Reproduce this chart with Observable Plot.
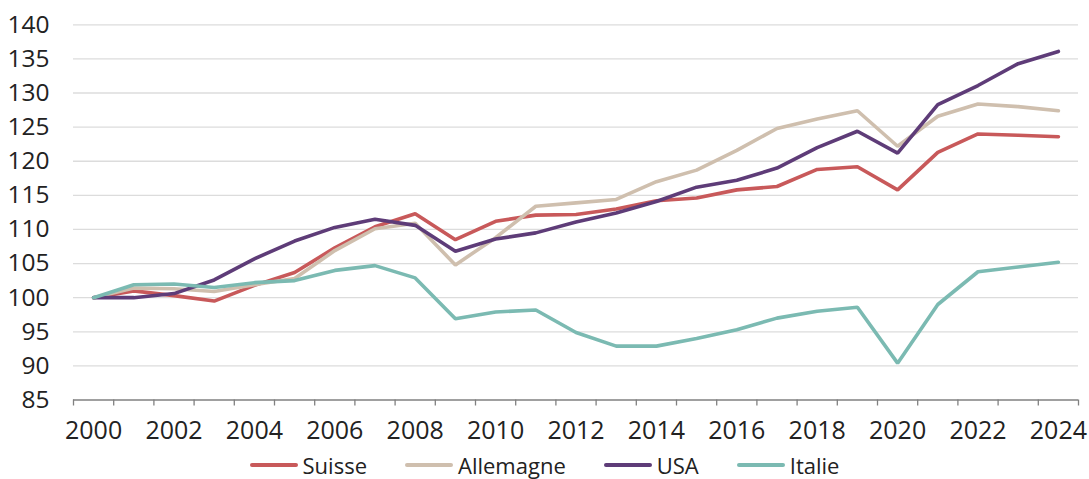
<!DOCTYPE html>
<html>
<head>
<meta charset="utf-8">
<script src="https://cdn.jsdelivr.net/npm/d3@7"></script>
<script src="https://cdn.jsdelivr.net/npm/@observablehq/plot@0.6"></script>
<style>
  body { margin: 0; background: #fff; font-family: "Open Sans", sans-serif; }
  #legend { width: 1089px; display: flex; justify-content: center; gap: 38px; height: 38px; align-items: center; font-size: 22px; color: #222; }
  .item { display: flex; align-items: center; gap: 5px; }
  .sw { width: 48px; height: 4px; border-radius: 2px; }
</style>
</head>
<body>
<div id="chart"></div>
<div id="legend"></div>
<script>
const years = [2000,2001,2002,2003,2004,2005,2006,2007,2008,2009,2010,2011,2012,2013,2014,2015,2016,2017,2018,2019,2020,2021,2022,2023,2024];
const yearLabels = [2000,2002,2004,2006,2008,2010,2012,2014,2016,2018,2020,2022,2024];
const yTicks = [85,90,95,100,105,110,115,120,125,130,135,140];

const suisse    = [100,101.0,100.3,99.5,101.8,103.7,107.3,110.4,112.3,108.5,111.2,112.1,112.2,113.0,114.2,114.6,115.8,116.3,118.8,119.2,115.8,121.3,124.0,123.8,123.6];
const allemagne = [100,101.4,101.3,100.9,101.9,102.8,106.9,110.1,110.9,104.8,108.8,113.4,113.9,114.4,117.0,118.7,121.6,124.8,126.2,127.4,122.2,126.6,128.4,128.0,127.4];
const usa       = [100,100.0,100.6,102.6,105.7,108.3,110.3,111.5,110.6,106.8,108.6,109.5,111.1,112.4,114.1,116.2,117.2,119.0,122.0,124.4,121.2,128.3,131.1,134.3,136.1];
const italie    = [100,101.9,102.0,101.5,102.2,102.5,104.0,104.7,102.9,96.9,97.9,98.2,94.9,92.9,92.9,94.0,95.3,97.0,98.0,98.6,90.4,99.0,103.8,104.5,105.2];

const seriesNames = ["Suisse","Allemagne","USA","Italie"];
const seriesValues = [suisse, allemagne, usa, italie];
const colors = ["#C8595A","#CFBFAE","#5E3C78","#7BBAB2"];

const rows = [];
seriesNames.forEach((name, i) => {
  years.forEach((yr, j) => rows.push({series: name, year: yr, value: seriesValues[i][j]}));
});

const boundaries = years.map(y => y - 0.5).concat([years[years.length-1] + 0.5]);

const chart = Plot.plot({
  width: 1089,
  height: 446,
  marginLeft: 73,
  marginRight: 11,
  marginTop: 24.3,
  marginBottom: 46.5,
  style: {fontFamily: "'Open Sans', sans-serif", background: "#fff"},
  x: {type: "linear", domain: [boundaries[0], boundaries[boundaries.length-1]], axis: null},
  y: {domain: [85, 140], axis: null},
  color: {domain: seriesNames, range: colors},
  marks: [
    Plot.gridY(yTicks.filter(d => d !== 85), {stroke: "#dcdcdc", strokeOpacity: 1, strokeWidth: 1.3}),
    Plot.axisY(yTicks, {label: null, tickSize: 0, tickPadding: 24, fontSize: 24.5, fill: "#222", tickFormat: d => String(d)}),
    Plot.ruleY([85], {stroke: "#808080", strokeWidth: 1.5}),
    Plot.axisX(boundaries, {label: null, tickSize: 6, stroke: "#808080", strokeWidth: 1.3, tickFormat: () => ""}),
    Plot.axisX(yearLabels, {label: null, tickSize: 0, tickPadding: 21, fontSize: 25, fill: "#222", tickFormat: d => String(d)}),
    Plot.line(rows, {x: "year", y: "value", z: "series", stroke: "series", strokeWidth: 3.6, strokeLinejoin: "miter", strokeLinecap: "round"})
  ]
});
document.getElementById("chart").appendChild(chart);

const legend = document.getElementById("legend");
seriesNames.forEach((name, i) => {
  const it = document.createElement("div");
  it.className = "item";
  it.innerHTML = `<span class="sw" style="background:${colors[i]}"></span><span>${name}</span>`;
  legend.appendChild(it);
});
</script>
</body>
</html>
